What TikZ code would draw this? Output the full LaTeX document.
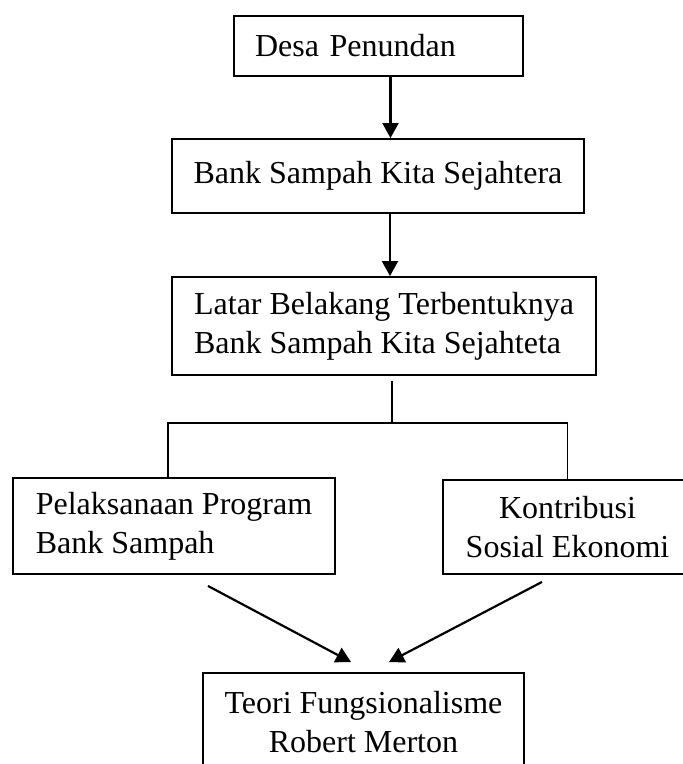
\documentclass[tikz,border=0pt]{standalone}
\usepackage{fontspec}
\setmainfont{Liberation Serif}
\usetikzlibrary{arrows.meta}

\begin{document}
\begin{tikzpicture}[x=1pt,y=-1pt,line width=1.5pt,
  kotak/.style={draw, line width=1.9pt, inner xsep=21pt, inner ysep=0pt, font=\fontsize{32}{39}\selectfont},
  panah/.style={line width=2.2pt, -{Triangle[length=15pt,width=16pt]}}]
\path[use as bounding box, fill=white] (0,0) rectangle (683,764);
\node[kotak, minimum width=289pt, minimum height=60pt, text width=247pt, align=left] (desa) at (378.5,46) {Desa Penundan};
\node[kotak, minimum width=412pt, minimum height=74pt, align=center] (bank) at (378,176) {Bank Sampah Kita Sejahtera};
\node[kotak, minimum width=424pt, minimum height=98pt, align=left] (latar) at (384,326) {Latar Belakang Terbentuknya\\Bank Sampah Kita Sejahteta};
\node[kotak, minimum width=322pt, minimum height=96pt, align=left] (pelaksanaan) at (174,526) {Pelaksanaan Program\\Bank Sampah};
\node[kotak, minimum width=249pt, minimum height=94pt, align=center] (kontribusi) at (567.5,527) {Kontribusi\\Sosial Ekonomi};
\node[kotak, minimum width=321pt, minimum height=98pt, align=center] (teori) at (363.5,722) {Teori Fungsionalisme\\Robert Merton};
\coordinate (cabang) at (392,423);
\draw[panah] ([xshift=12pt]desa.south) -- ([xshift=12pt]desa.south |- bank.north);
\draw[panah] ([xshift=12pt]bank.south) -- ([xshift=12pt]bank.south |- latar.north);
\draw ([yshift=-5pt]latar.south -| cabang) -- (cabang);
\draw ([xshift=-6pt]pelaksanaan.north) |- (cabang) -| (kontribusi.north);
\draw[panah] ([xshift=34pt,yshift=-11pt]pelaksanaan.south) -- ([xshift=-12.5pt,yshift=10pt]teori.north);
\draw[panah] ([xshift=-25.5pt,yshift=-7pt]kontribusi.south) -- ([xshift=25.5pt,yshift=10pt]teori.north);
\end{tikzpicture}
\end{document}
